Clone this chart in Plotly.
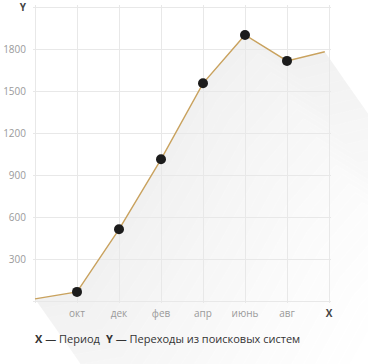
import plotly.graph_objects as go

# ---- data ----
x_pos = [0, 1, 2, 3, 4, 5, 6, 6.9]
values = [15, 65, 512, 1012, 1555, 1900, 1715, 1780]
marker_idx = [1, 2, 3, 4, 5, 6]
x_tick_vals = [0, 1, 2, 3, 4, 5, 6, 7]
x_tick_text = ["", "окт", "дек", "фев", "апр", "июнь", "авг", "X"]
y_tick_vals = [0, 300, 600, 900, 1200, 1500, 1800, 2100]
y_tick_text = ["", "300", "600", "900", "1200", "1500", "1800", "Y"]

W, H = 368, 364

# pixel mapping of values: x 0 -> 35, 7 -> 329 ; y 0 -> 301, 2100 -> 7
X0, X7, Y0, YT = 35.0, 329.0, 301.0, 7.0
sx = (X7 - X0) / 7.0
sy = (Y0 - YT) / 2100.0
# plot area, slightly padded so edge gridlines are drawn
PL, PR, PT, PB = 33.0, 331.0, 5.0, 303.0
x_rng = [(PL - X0) / sx, (PR - X0) / sx]
y_rng = [-(PB - Y0) / sy, (Y0 - PT) / sy]


def to_paper(xv, yv):
    return (X0 + xv * sx) / W, 1 - (Y0 - yv * sy) / H


fig = go.Figure()

# ---- main line ----
fig.add_trace(go.Scatter(
    x=x_pos, y=values, mode="lines",
    line=dict(color="#c9a25e", width=1.4),
    showlegend=False, hoverinfo="skip"))
fig.add_trace(go.Scatter(
    x=[x_pos[i] for i in marker_idx], y=[values[i] for i in marker_idx],
    mode="markers", marker=dict(color="#1c1c1c", size=10),
    showlegend=False, cliponaxis=False))

# ---- soft shadow below the line (paper-referenced shapes, below the grid) ----
dx_px, dy_px = 0.7, 1.0
nb = 28
tmax = 260.0
shapes = []
for k in range(nb):
    t0 = tmax * k / nb
    t1 = tmax * (k + 1) / nb
    p0 = [to_paper(x + t0 * dx_px / sx, y - t0 * dy_px / sy) for x, y in zip(x_pos, values)]
    p1 = [to_paper(x + t1 * dx_px / sx, y - t1 * dy_px / sy) for x, y in zip(x_pos, values)]
    pts = p0 + p1[::-1]
    path = "M " + " L ".join(f"{a:.5f},{b:.5f}" for a, b in pts) + " Z"
    alpha = 0.055 * (1 - (k + 0.5) / nb) ** 1.3
    shapes.append(dict(type="path", path=path, xref="paper", yref="paper",
                       fillcolor=f"rgba(0,0,0,{alpha:.4f})", line=dict(width=0),
                       layer="below"))

font_fam = "Open Sans, Noto Sans, sans-serif"
x_tt = [f'<b><span style="color:#444">{t}</span></b>' if t == "X" else t for t in x_tick_text]
y_tt = [f'<b><span style="color:#444">{t}</span></b>' if t == "Y" else t for t in y_tick_text]

fig.update_layout(
    width=W, height=H,
    margin=dict(l=0, r=0, t=0, b=0, autoexpand=False),
    paper_bgcolor="white", plot_bgcolor="rgba(0,0,0,0)",
    shapes=shapes,
    xaxis=dict(domain=[PL / W, PR / W], range=x_rng, automargin=False,
               tickmode="array", tickvals=x_tick_vals, ticktext=x_tt,
               showgrid=True, gridcolor="#e8e8e8", gridwidth=1,
               zeroline=False, showline=False, ticks="",
               tickfont=dict(family=font_fam, size=10, color="#9a9a9a"),
               ticklabelstandoff=3, ticklabeloverflow="allow"),
    yaxis=dict(domain=[1 - PB / H, 1 - PT / H], range=y_rng, automargin=False,
               tickmode="array", tickvals=y_tick_vals, ticktext=y_tt,
               showgrid=True, gridcolor="#e8e8e8", gridwidth=1,
               zeroline=False, showline=False, ticks="",
               tickfont=dict(family=font_fam, size=10, color="#9a9a9a"),
               ticklabelstandoff=6, ticklabeloverflow="allow"),
    annotations=[
        dict(text="<b>X</b> — Период", x=33 / W, y=1 - 338 / H, xref="paper", yref="paper",
             xanchor="left", yanchor="middle", showarrow=False,
             font=dict(family=font_fam, size=11, color="#333")),
        dict(text="<b>Y</b> — Переходы из поисковых систем", x=104 / W, y=1 - 338 / H,
             xref="paper", yref="paper", xanchor="left", yanchor="middle", showarrow=False,
             font=dict(family=font_fam, size=11, color="#333")),
    ],
)

fig.write_html("out.html", config={"displayModeBar": False},
               post_script="document.body.style.margin='0';document.body.style.overflow='hidden';")
